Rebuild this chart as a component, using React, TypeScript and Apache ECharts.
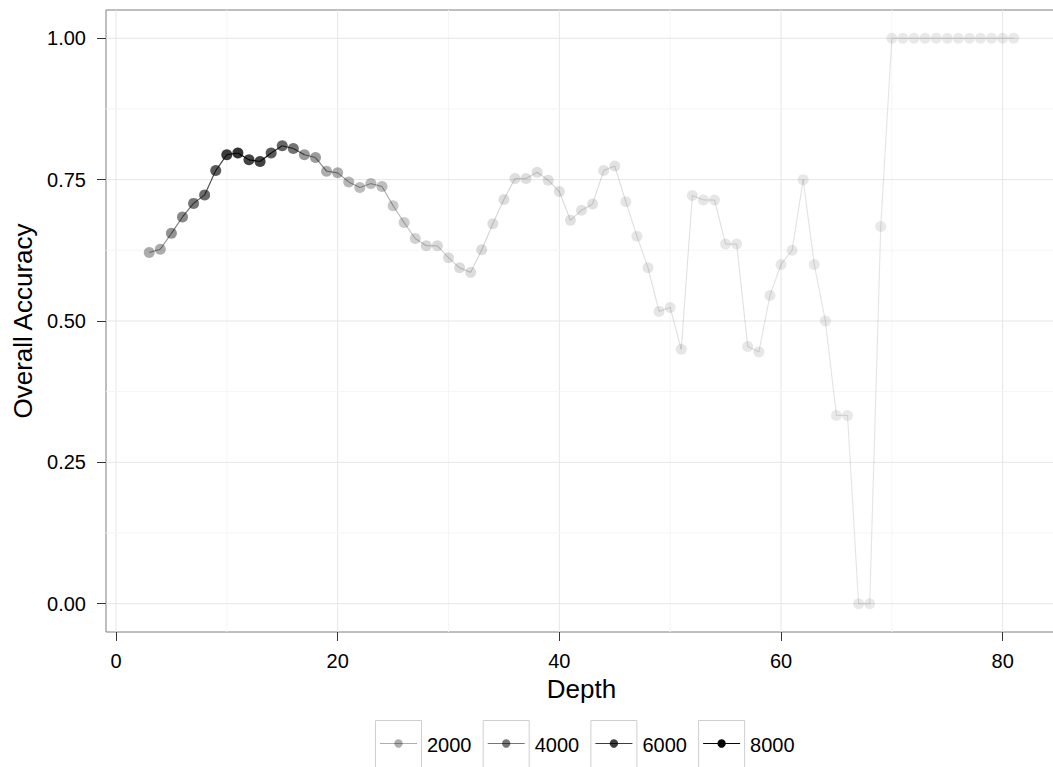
import React, { useEffect, useRef } from "react";
import * as echarts from "echarts";

// Tree depth on the x axis
const depths = [
  3, 4, 5, 6, 7, 8, 9, 10, 11, 12, 13, 14, 15, 16, 17, 18, 19, 20, 21, 22,
  23, 24, 25, 26, 27, 28, 29, 30, 31, 32, 33, 34, 35, 36, 37, 38, 39, 40, 41,
  42, 43, 44, 45, 46, 47, 48, 49, 50, 51, 52, 53, 54, 55, 56, 57, 58, 59, 60,
  61, 62, 63, 64, 65, 66, 67, 68, 69, 70, 71, 72, 73, 74, 75, 76, 77, 78, 79,
  80, 81,
];

// Overall accuracy at each depth
const accuracy = [
  0.621, 0.627, 0.655, 0.684, 0.708, 0.723, 0.766, 0.794, 0.797, 0.785,
  0.782, 0.797, 0.81, 0.805, 0.794, 0.789, 0.765, 0.762, 0.746, 0.736,
  0.743, 0.738, 0.704, 0.674, 0.646, 0.633, 0.633, 0.612, 0.594, 0.586,
  0.626, 0.672, 0.715, 0.752, 0.752, 0.763, 0.749, 0.729, 0.678, 0.696,
  0.707, 0.766, 0.774, 0.711, 0.65, 0.594, 0.517, 0.524, 0.45, 0.722,
  0.714, 0.714, 0.636, 0.636, 0.455, 0.445, 0.545, 0.6, 0.625, 0.75,
  0.6, 0.5, 0.333, 0.333, 0, 0, 0.667, 1, 1, 1, 1, 1, 1, 1, 1, 1, 1, 1, 1,
];

// Number of samples evaluated at each depth (drives transparency)
const sampleCounts = [
  2800, 2800, 3900, 4400, 5200, 5700, 6400, 7800, 8200, 7500, 7500, 6500,
  5900, 5300, 3600, 3500, 2700, 2700, 2300, 2100, 2100, 2000, 1500, 1300,
  1100, 900, 800, 700, 700, 650, 650, 600, 600, 550, 550, 500, 500, 480,
  450, 450, 420, 400, 400, 260, 250, 240, 230, 220, 210, 200, 200, 190,
  180, 180, 170, 170, 160, 160, 150, 150, 140, 130, 90, 80, 70, 70, 90,
  90, 90, 90, 90, 90, 90, 90, 90, 90, 90, 90, 90,
];

const legendCounts = [2000, 4000, 6000, 8000];

const xTicks = [0, 20, 40, 60, 80];
const xMinorTicks = [10, 30, 50, 70];
const yTicks = [0, 0.25, 0.5, 0.75, 1];
const yMinorTicks = [0.125, 0.375, 0.625, 0.875];

const FONT = '"Liberation Sans", Arial, sans-serif';
const COUNT_MAX = 8200;

// Continuous alpha scale: 0.1 .. 1 over 0 .. COUNT_MAX samples
const alphaFor = (n: number) =>
  0.1 + (0.9 * Math.min(n, COUNT_MAX)) / COUNT_MAX;
const inkFor = (n: number) => `rgba(0,0,0,${alphaFor(n).toFixed(3)})`;

export default function App() {
  const ref = useRef<HTMLDivElement>(null);

  useEffect(() => {
    document.body.style.margin = "0";
    if (!ref.current) return;
    const chart = echarts.init(ref.current, undefined, { renderer: "svg" });

    const gridLineData = [
      ...xTicks.map((v) => [v, 0, 1]),
      ...xMinorTicks.map((v) => [v, 0, 0]),
      ...yTicks.map((v) => [v, 1, 1]),
      ...yMinorTicks.map((v) => [v, 1, 0]),
    ];

    const segmentData = depths.slice(0, -1).map((d, i) => [
      d,
      accuracy[i],
      depths[i + 1],
      accuracy[i + 1],
      sampleCounts[i],
    ]);

    const pointData = depths.map((d, i) => ({
      value: [d, accuracy[i]],
      itemStyle: { color: inkFor(sampleCounts[i]) },
    }));

    const legendStep = 107.7;
    const legendGraphic = legendCounts.map((n, i) => ({
      type: "group",
      x: 375 + i * legendStep,
      y: 720,
      children: [
        {
          type: "rect",
          shape: { x: 0.5, y: 0.5, width: 46, height: 47 },
          style: { fill: "#ffffff", stroke: "#cfcfcf", lineWidth: 1 },
        },
        {
          type: "line",
          shape: { x1: 5, y1: 23.5, x2: 42, y2: 23.5 },
          style: { stroke: inkFor(n), lineWidth: 1.1 },
        },
        {
          type: "circle",
          shape: { cx: 23.5, cy: 23.5, r: 4.2 },
          style: { fill: inkFor(n) },
        },
        {
          type: "text",
          x: 52,
          y: 25,
          style: {
            text: String(n),
            fontSize: 20,
            fontFamily: FONT,
            fill: "#000",
            verticalAlign: "middle",
          },
        },
      ],
    }));

    const option: any = {
      animation: false,
      textStyle: { fontFamily: FONT },
      grid: {
        left: 106,
        width: 951,
        top: 10,
        height: 622,
        containLabel: false,
        outerBoundsMode: "none",
        show: true,
        borderColor: "#7f7f7f",
        borderWidth: 1,
        backgroundColor: "transparent",
      },
      xAxis: {
        type: "value",
        min: -0.9,
        max: 84.9,
        name: "Depth",
        nameLocation: "middle",
        nameGap: 44,
        nameTextStyle: { fontSize: 26, color: "#000", fontFamily: FONT },
        axisLine: { show: false, onZero: false },
        axisTick: {
          show: true,
          length: 9,
          customValues: xTicks,
          lineStyle: { color: "#333", width: 1 },
        },
        axisLabel: {
          customValues: xTicks,
          fontSize: 20,
          color: "#000",
          margin: 19,
          fontFamily: FONT,
        },
        splitLine: { show: false },
      },
      yAxis: {
        type: "value",
        min: -0.05,
        max: 1.05,
        name: "Overall Accuracy",
        nameLocation: "middle",
        nameGap: 68,
        nameTextStyle: { fontSize: 26, color: "#000", fontFamily: FONT },
        axisLine: { show: false, onZero: false },
        axisTick: {
          show: true,
          length: 9,
          customValues: yTicks,
          lineStyle: { color: "#333", width: 1 },
        },
        axisLabel: {
          customValues: yTicks,
          fontSize: 20,
          color: "#000",
          margin: 20,
          fontFamily: FONT,
          formatter: (v: number) => v.toFixed(2),
        },
        splitLine: { show: false },
      },
      graphic: legendGraphic,
      series: [
        {
          type: "custom",
          name: "gridlines",
          silent: true,
          z: 0,
          data: gridLineData,
          renderItem: (params: any, api: any) => {
            const cs = params.coordSys;
            const v = api.value(0);
            const vertical = api.value(1) === 0;
            const major = api.value(2) === 1;
            const stroke = major ? "#e6e6e6" : "#f5f5f5";
            if (vertical) {
              const x = api.coord([v, 0])[0];
              return {
                type: "line",
                shape: { x1: x, y1: cs.y, x2: x, y2: cs.y + cs.height },
                style: { stroke, lineWidth: 1 },
              };
            }
            const y = api.coord([0, v])[1];
            return {
              type: "line",
              shape: { x1: cs.x, y1: y, x2: cs.x + cs.width, y2: y },
              style: { stroke, lineWidth: 1 },
            };
          },
        },
        {
          type: "custom",
          name: "path",
          silent: true,
          z: 2,
          data: segmentData,
          renderItem: (params: any, api: any) => {
            const a = api.coord([api.value(0), api.value(1)]);
            const b = api.coord([api.value(2), api.value(3)]);
            return {
              type: "line",
              shape: { x1: a[0], y1: a[1], x2: b[0], y2: b[1] },
              style: { stroke: inkFor(api.value(4)), lineWidth: 1.1 },
            };
          },
        },
        {
          type: "scatter",
          name: "accuracy",
          silent: true,
          z: 3,
          symbol: "circle",
          symbolSize: 11,
          data: pointData,
        },
      ],
    };

    chart.setOption(option);
    return () => chart.dispose();
  }, []);

  return <div ref={ref} style={{ width: 1053, height: 767 }} />;
}
